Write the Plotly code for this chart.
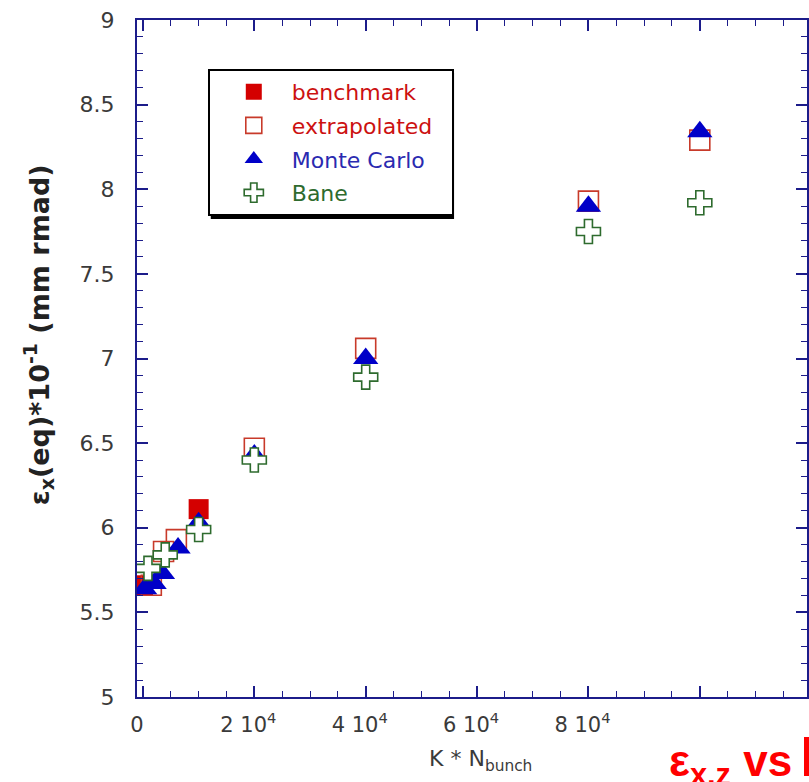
import plotly.graph_objects as go

# --- data: K*N_bunch vs equilibrium horizontal emittance ---
bench_x = [0, 10000]
bench_y = [5.66, 6.11]

extrap_x = [1500, 3700, 6000, 20000, 40000, 80000, 100000]
extrap_y = [5.66, 5.86, 5.93, 6.47, 7.06, 7.93, 8.29]

mc_x = [300, 2000, 3500, 6300, 10000, 20000, 40000, 80000, 100000]
mc_y = [5.64, 5.67, 5.73, 5.88, 6.03, 6.43, 7.00, 7.90, 8.34]

bane_x = [900, 4000, 10000, 20000, 40000, 80000, 100000]
bane_y = [5.76, 5.84, 5.99, 6.40, 6.89, 7.75, 7.92]

x_tickvals = [0, 20000, 40000, 60000, 80000, 100000]
x_ticktext = ["0", "2 10<sup>4</sup>", "4 10<sup>4</sup>", "6 10<sup>4</sup>", "8 10<sup>4</sup>", ""]
y_tickvals = [5, 5.5, 6, 6.5, 7, 7.5, 8, 8.5, 9]
y_ticktext = ["5", "5.5", "6", "6.5", "7", "7.5", "8", "8.5", "9"]

W, H = 809, 782
ML, MR, MT, MB = 137, 0, 20, 85
PW, PH = W - ML - MR, H - MT - MB


def px(x):
    return (x - ML) / PW


def py(y):
    return (H - MB - y) / PH


FONT = "DejaVu Sans, Liberation Sans, Arial"
AXIS = "#1c1c8a"
LABEL = "#3a3a3a"
RED = "#d40000"
BLUE = "#0000c8"
GREEN = "#2e6b2e"
NB = "\u00a0"

fig = go.Figure()
fig.add_trace(go.Scatter(
    x=bench_x, y=bench_y, mode="markers",
    name="<span style='color:#cc1111'>benchmark</span>",
    marker=dict(symbol="square", size=20, color=RED, line=dict(width=0)),
))
fig.add_trace(go.Scatter(
    x=extrap_x, y=extrap_y, mode="markers",
    name="<span style='color:#cc1111'>extrapolated</span>" + NB * 2,
    marker=dict(symbol="square-open", size=20, color="#c83a2a", line=dict(width=1.6)),
))
fig.add_trace(go.Scatter(
    x=mc_x, y=mc_y, mode="markers",
    name="<span style='color:#2a2ab0'>Monte Carlo</span>",
    marker=dict(symbol="triangle-up", size=22, color=BLUE, line=dict(width=0)),
))
fig.add_trace(go.Scatter(
    x=bane_x, y=bane_y, mode="markers",
    name="<span style='color:#2e6b2e'>Bane</span>",
    marker=dict(symbol="cross", size=20, color="white", line=dict(width=1.6, color=GREEN)),
))

axis_common = dict(
    showline=True, linecolor=AXIS, linewidth=2, mirror="allticks",
    ticks="inside", ticklen=11, tickwidth=1.6, tickcolor=AXIS,
    showgrid=False, zeroline=False,
)

fig.update_xaxes(
    range=[-1070, 119250], tickmode="array", tickvals=x_tickvals, ticktext=x_ticktext,
    minor=dict(ticks="inside", ticklen=6, tickwidth=1.4, tickcolor=AXIS, dtick=5000, tick0=0),
    ticklabelstandoff=8, ticklabelshift=-6,
    tickfont=dict(family=FONT, size=21, color=LABEL),
    **axis_common,
)
fig.update_yaxes(
    range=[5, 9], tickmode="array", tickvals=y_tickvals, ticktext=y_ticktext,
    minor=dict(ticks="inside", ticklen=6, tickwidth=1.4, tickcolor=AXIS, dtick=0.1, tick0=5),
    ticklabelstandoff=16,
    tickfont=dict(family=FONT, size=22, color=LABEL),
    **axis_common,
)

# legend drop shadow
fig.add_shape(type="rect", xref="paper", yref="paper",
              x0=px(211), x1=px(455), y0=py(219), y1=py(73),
              fillcolor="black", line=dict(width=0), layer="above")

fig.add_annotation(
    xref="paper", yref="paper", x=px(38), y=py(335), textangle=-90,
    text="<b>ε<sub>x</sub>(eq)*10<sup>-1</sup> (mm rmad)</b>", showarrow=False,
    font=dict(family=FONT, size=27, color="#222222"),
    xanchor="center", yanchor="middle",
)
fig.add_annotation(
    xref="paper", yref="paper", x=px(482), y=py(760),
    text="K * N<sub>bunch</sub>", showarrow=False,
    font=dict(family=FONT, size=22, color=LABEL),
    xanchor="center", yanchor="middle",
)
fig.add_annotation(
    xref="paper", yref="paper", x=px(669), y=py(734),
    text="<b>ε<sub>x,z</sub> vs</b>", showarrow=False,
    font=dict(family="Liberation Sans, Arial", size=44, color="#ff0000"),
    xanchor="left", yanchor="top",
)
fig.add_shape(type="rect", xref="paper", yref="paper",
              x0=px(806), x1=px(812), y0=py(776), y1=py(737),
              fillcolor="#ff0000", line=dict(width=0))

fig.update_layout(
    width=W, height=H,
    margin=dict(l=ML, r=MR, t=MT, b=MB, pad=0),
    paper_bgcolor="white", plot_bgcolor="white",
    showlegend=True,
    legend=dict(
        x=px(208), y=py(69), xanchor="left", yanchor="top",
        bgcolor="white", bordercolor="black", borderwidth=2,
        font=dict(family=FONT, size=22),
        itemwidth=66, tracegroupgap=2, indentation=6,
    ),
)
for i, tr in enumerate(fig.data):
    tr.legendgroup = f"g{i}"

fig.write_html("out.html")
